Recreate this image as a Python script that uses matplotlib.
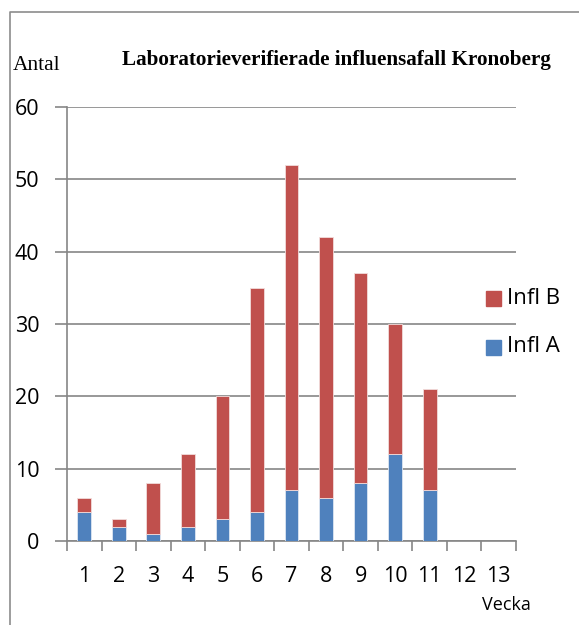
import numpy as np
import matplotlib.pyplot as plt
from matplotlib.lines import Line2D
from matplotlib.patches import Rectangle

weeks = ['1', '2', '3', '4', '5', '6', '7', '8', '9', '10', '11', '12', '13']
infl_a = [4, 2, 1, 2, 3, 4, 7, 6, 8, 12, 7, 0, 0]
infl_b = [2, 1, 7, 10, 17, 31, 45, 36, 29, 18, 14, 0, 0]

red = '#C0504D'
blue = '#4F81BD'
grey = '#868686'

fig = plt.figure(figsize=(5.79, 6.25), dpi=100)
ax = fig.add_axes([67/579, 1 - 541/625, (516 - 67)/579, (541 - 107)/625])

x = np.arange(len(weeks))
ax.bar(x, infl_a, width=0.4, color=blue, edgecolor='#dce6f2', linewidth=0.6, zorder=3)
ax.bar(x, infl_b, width=0.4, bottom=infl_a, color=red, edgecolor='#f2dcdb', linewidth=0.6, zorder=3)

ax.set_xlim(-0.5, len(weeks) - 0.5)
ax.set_ylim(0, 60)
ax.set_yticks(range(0, 61, 10))
ax.yaxis.grid(True, color=grey, linewidth=1.2, zorder=0)
ax.set_axisbelow(True)

# category labels centred, tick marks on the boundaries
ax.set_xticks(x)
ax.set_xticklabels(weeks)
ax.set_xticks(np.arange(-0.5, len(weeks)), minor=True)
ax.tick_params(axis='x', which='major', length=0, pad=18, labelsize=15.5)
ax.tick_params(axis='x', which='minor', length=7, width=1.2, color=grey)
ax.tick_params(axis='y', length=9, width=1.2, color=grey, pad=11, labelsize=15.5)
for lab in ax.get_xticklabels() + ax.get_yticklabels():
    lab.set_family('Open Sans')

for s in ['top', 'right']:
    ax.spines[s].set_visible(False)
for s in ['left', 'bottom']:
    ax.spines[s].set_color(grey)
    ax.spines[s].set_linewidth(1.2)

fig.text(336/579, 1 - 60/625, 'Laboratorieverifierade influensafall Kronoberg',
         ha='center', va='center', family='Liberation Serif', weight='bold', fontsize=15.2)
fig.text(13/579, 1 - 66/625, 'Antal', ha='left', va='center',
         family='Liberation Serif', fontsize=15.5)
fig.text(506/579, 1 - 605/625, 'Vecka', ha='center', va='center',
         family='Open Sans', fontsize=13)

# legend
for yy, lbl, c in [(299, 'Infl B', red), (347, 'Infl A', blue)]:
    fig.add_artist(Rectangle((486/579, 1 - (yy + 7.5)/625), 15/579, 15/625,
                             transform=fig.transFigure, color=c))
    fig.text(507/579, 1 - (yy - 1)/625, lbl, ha='left', va='center',
             family='Open Sans', fontsize=16)

# outer frame of the chart object (cropped)
fig.add_artist(Line2D([10/579, 10/579, 1], [0, 1 - 12/625, 1 - 12/625],
                      transform=fig.transFigure, color='#8c8c8c', linewidth=1.2))

fig.savefig('out.png', dpi=100)
